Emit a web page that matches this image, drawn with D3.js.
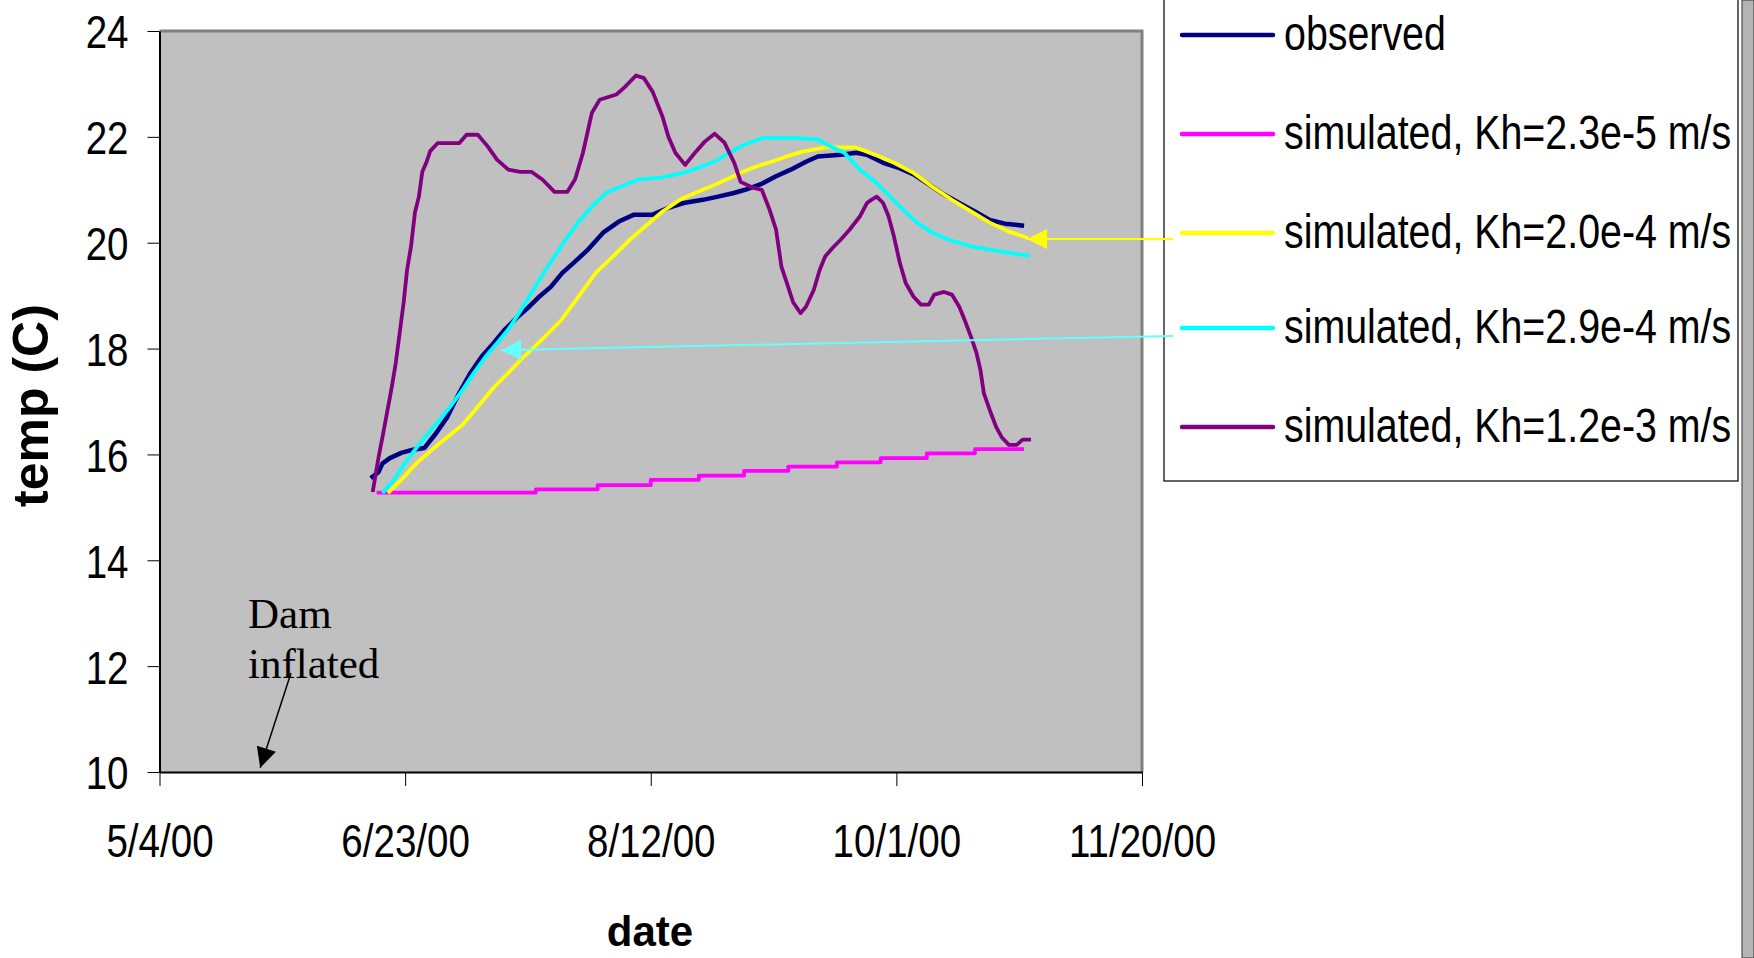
<!DOCTYPE html>
<html>
<head>
<meta charset="utf-8">
<script src="https://cdn.jsdelivr.net/npm/d3@7"></script>
<style>
  body { margin: 0; background: #fff; }
  .narrow { font-family: "Liberation Sans", Arial, sans-serif; }
</style>
</head>
<body>
<svg id="chart" width="1754" height="958"></svg>
<script>
// days counted from 5/4/00, temperatures in C
const startDate = new Date(2000, 4, 4);
const xTickDays = [0, 50, 100, 150, 200];
const yTicks = [10, 12, 14, 16, 18, 20, 22, 24];

const observed = [
  [43, 15.55], [44.6, 15.67], [45.4, 15.83], [46.9, 15.93], [49.2, 16.03], [51.6, 16.09],
  [53.9, 16.12], [56.3, 16.4], [58.6, 16.71], [61, 17.16], [63.3, 17.54], [65.6, 17.85],
  [68, 18.1], [70.3, 18.36], [72.7, 18.58], [75, 18.77], [77.3, 18.98], [79.7, 19.17],
  [82, 19.43], [84.3, 19.62], [87, 19.85], [90.3, 20.19], [93.5, 20.4], [96.6, 20.53],
  [100.4, 20.53], [103.6, 20.66], [106.7, 20.75], [110.6, 20.81], [113.7, 20.87],
  [116.9, 20.94], [119.2, 21.0], [122.3, 21.1], [125.4, 21.25], [128.5, 21.38],
  [131.6, 21.53], [134, 21.63], [138.7, 21.66], [141.8, 21.7], [144, 21.66],
  [147.3, 21.51], [150.3, 21.42], [153.5, 21.29], [156.6, 21.1], [159.7, 20.91],
  [162.8, 20.75], [166, 20.59], [169, 20.43], [172.1, 20.36], [176, 20.32]
];

// stepwise series (value holds until next point)
const simKh23e5 = [
  [44.2, 15.28], [76.6, 15.34], [89.2, 15.42], [100, 15.52], [109.8, 15.6], [119, 15.69],
  [128, 15.77], [137.9, 15.85], [146.8, 15.93], [156.2, 16.02], [166, 16.1], [176, 16.1]
];

const simKh20e4 = [
  [46.5, 15.27], [49.2, 15.52], [52.4, 15.84], [55.5, 16.09], [58.6, 16.33], [61.7, 16.56],
  [64.8, 16.9], [68, 17.26], [71, 17.54], [74.2, 17.85], [77.3, 18.12], [81.8, 18.54],
  [85.3, 18.98], [88.8, 19.43], [92.3, 19.74], [95.8, 20.06], [98.9, 20.31], [102.4, 20.59],
  [105.9, 20.81], [109, 20.94], [112.2, 21.06], [115.3, 21.19], [118.3, 21.32],
  [121.5, 21.44], [124.6, 21.53], [127.7, 21.63], [130.9, 21.72], [135.5, 21.8],
  [141.8, 21.8], [145.7, 21.66], [149.5, 21.51], [153.5, 21.32], [157.3, 21.06],
  [161.3, 20.81], [165.2, 20.59], [169, 20.38], [172.9, 20.21], [176.8, 20.09]
];

const simKh29e4 = [
  [45.4, 15.27], [47.7, 15.52], [50, 15.84], [52.4, 16.14], [54.7, 16.4], [57, 16.65],
  [59.4, 16.93], [61.7, 17.22], [64, 17.54], [66.4, 17.85], [68.7, 18.1], [71, 18.36],
  [73.4, 18.7], [75.7, 19.05], [78, 19.4], [80.4, 19.74], [82.7, 20.06], [85.1, 20.37],
  [88, 20.68], [91, 20.95], [95, 21.1], [97.4, 21.19], [102, 21.23], [106.7, 21.32],
  [109.8, 21.42], [113, 21.53], [116, 21.7], [119, 21.85], [123, 21.98], [129.3, 21.98],
  [134, 21.95], [136.3, 21.83], [139.4, 21.7], [142.6, 21.38], [145.7, 21.15], [148, 20.94],
  [151, 20.66], [154.2, 20.38], [157.3, 20.19], [160.5, 20.06], [165.2, 19.93],
  [171.4, 19.83], [177.2, 19.75]
];

const simKh12e3 = [
  [43.4, 15.29], [44.6, 15.95], [45.4, 16.33], [46.5, 16.88], [47.3, 17.28], [48.1, 17.73],
  [48.9, 18.3], [49.7, 18.87], [50.4, 19.49], [51.2, 19.93], [52, 20.57], [52.8, 20.87],
  [53.5, 21.34], [54.3, 21.51], [55.1, 21.73], [56.6, 21.88], [61, 21.88], [62.5, 22.04],
  [64.8, 22.04], [66.8, 21.82], [68.7, 21.57], [71, 21.38], [73.4, 21.34], [75.7, 21.34],
  [78, 21.19], [80.4, 20.96], [83, 20.96], [84.6, 21.2], [86.2, 21.7], [88, 22.45],
  [89.6, 22.7], [93, 22.8], [94.6, 22.93], [97, 23.16], [98.6, 23.11], [100.4, 22.85],
  [102.4, 22.38], [103.6, 22.0], [105, 21.7], [107, 21.47], [109, 21.7], [111, 21.91],
  [113, 22.06], [115, 21.89], [117, 21.51], [118.3, 21.15], [120.8, 21.04], [122.6, 21.0],
  [124.2, 20.62], [125.5, 20.25], [126.6, 19.55], [127.7, 19.24], [129, 18.87],
  [130.5, 18.67], [131.6, 18.79], [133.2, 19.11], [134.4, 19.49], [135.5, 19.74],
  [137, 19.9], [138.7, 20.06], [140.5, 20.25], [142.6, 20.5], [144, 20.75], [144.9, 20.81],
  [146, 20.87], [147.3, 20.75], [148.4, 20.5], [149.5, 20.12], [150.7, 19.62],
  [151.9, 19.24], [153.5, 18.98], [155, 18.83], [156.6, 18.83], [157.7, 19.02],
  [159.7, 19.07], [161.3, 19.02], [162.8, 18.79], [163.9, 18.54], [165.2, 18.22],
  [166.3, 17.92], [167.1, 17.6], [167.8, 17.16], [169, 16.84], [170.3, 16.52],
  [171.4, 16.33], [172.9, 16.18], [174.5, 16.18], [175.7, 16.28], [177.4, 16.28]
];

const seriesNames = [
  "observed",
  "simulated, Kh=2.3e-5 m/s",
  "simulated, Kh=2.0e-4 m/s",
  "simulated, Kh=2.9e-4 m/s",
  "simulated, Kh=1.2e-3 m/s"
];
const seriesData = [observed, simKh23e5, simKh20e4, simKh29e4, simKh12e3];
const seriesColors = ["#000080", "#ff00ff", "#ffff00", "#00ffff", "#800080"];

const toDate = d => new Date(startDate.getTime() + d * 86400000);
const squeeze = 0.82; // Arial-metric text squeezed to look like Arial Narrow

const svg = d3.select("#chart");
const margin = { left: 159.5, right: 612, top: 31, bottom: 186 };
const width = 1754, height = 958;

const x = d3.scaleTime()
  .domain([toDate(0), toDate(200)])
  .range([margin.left, width - margin.right]);
const y = d3.scaleLinear()
  .domain([10, 24])
  .range([height - margin.bottom, margin.top]);

// plot area
svg.append("rect")
  .attr("x", x.range()[0])
  .attr("y", y.range()[1])
  .attr("width", x.range()[1] - x.range()[0])
  .attr("height", y.range()[0] - y.range()[1])
  .attr("fill", "#c0c0c0");
svg.append("path")
  .attr("d", `M${x.range()[0]},${y.range()[1]}H${x.range()[1]}V${y.range()[0]}`)
  .attr("fill", "none")
  .attr("stroke", "#808080")
  .attr("stroke-width", 3);

// axes
let yAxis = svg.append("g")
  .attr("transform", `translate(${margin.left},0)`)
  .call(d3.axisLeft(y).tickValues(yTicks).tickSize(12).tickSizeOuter(0).tickPadding(19));
let xAxis = svg.append("g")
  .attr("transform", `translate(0,${y(10)})`)
  .call(d3.axisBottom(x).tickValues(xTickDays.map(toDate)).tickSize(14).tickSizeOuter(0)
    .tickPadding(38).tickFormat(d3.timeFormat("%-m/%-d/%y")));
[yAxis, xAxis].forEach(a => {
  a.selectAll("text").attr("class", "narrow").attr("font-size", 47).attr("fill", "#000");
  a.selectAll("line").attr("stroke", "#000");
  a.select(".domain").attr("stroke", "#000").attr("stroke-width", 2);
});
yAxis.selectAll("text")
  .attr("dy", "0.36em")
  .attr("x", -31 / squeeze)
  .attr("transform", `scale(${squeeze},1)`);
xAxis.selectAll("text").attr("transform", `scale(${squeeze},1)`);

svg.append("text")
  .attr("transform", `translate(48,${(y(10) + y(24)) / 2 + 4}) rotate(-90)`)
  .attr("text-anchor", "middle")
  .attr("font-family", "Liberation Sans, Arial, sans-serif")
  .attr("font-weight", "bold")
  .attr("font-size", 50)
  .text("temp (C)");
svg.append("text")
  .attr("x", 650)
  .attr("y", 946)
  .attr("text-anchor", "middle")
  .attr("font-family", "Liberation Sans, Arial, sans-serif")
  .attr("font-weight", "bold")
  .attr("font-size", 42)
  .text("date");

// series
let lineGenerator = d3.line()
  .x(d => x(toDate(d[0])))
  .y(d => y(d[1]));
seriesData.forEach((s, i) => {
  svg.append("path")
    .attr("d", lineGenerator.curve(i === 1 ? d3.curveStepAfter : d3.curveLinear)(s))
    .attr("fill", "none")
    .attr("stroke", seriesColors[i])
    .attr("stroke-width", i === 0 ? 4.5 : 3.8)
    .attr("stroke-linejoin", "round");
});

// arrowheads
let defs = svg.append("defs");
[["head-black", "#000"], ["head-yellow", "#ffff00"], ["head-cyan", "#66ffff"]].forEach(m => {
  defs.append("marker")
    .attr("id", m[0])
    .attr("viewBox", "0 0 10 10")
    .attr("refX", 10).attr("refY", 5)
    .attr("markerUnits", "userSpaceOnUse")
    .attr("markerWidth", 23).attr("markerHeight", 20)
    .attr("orient", "auto")
    .append("path")
    .attr("d", "M0,0L10,5L0,10Z")
    .attr("fill", m[1]);
});

// legend
const legendX = 1164;
const legendRows = [35, 134, 233, 328, 427];
svg.append("rect")
  .attr("x", legendX).attr("y", -2)
  .attr("width", 574).attr("height", 483)
  .attr("fill", "#fff")
  .attr("stroke", "#000")
  .attr("stroke-width", 1.2);
seriesNames.forEach((n, i) => {
  svg.append("line")
    .attr("x1", legendX + 18).attr("x2", legendX + 109)
    .attr("y1", legendRows[i]).attr("y2", legendRows[i])
    .attr("stroke", seriesColors[i])
    .attr("stroke-width", 4.5)
    .attr("stroke-linecap", "round");
  svg.append("text")
    .attr("class", "narrow")
    .attr("transform", `translate(${legendX + 120},${legendRows[i] + 15}) scale(${squeeze},1)`)
    .attr("font-size", 48)
    .text(n);
});

// pointers from legend to the curves
svg.append("line")
  .attr("x1", legendX + 9).attr("y1", 239)
  .attr("x2", x(toDate(176.6))).attr("y2", y(20.07))
  .attr("stroke", "#ffff00").attr("stroke-width", 2)
  .attr("marker-end", "url(#head-yellow)");
svg.append("line")
  .attr("x1", legendX + 9).attr("y1", 336)
  .attr("x2", x(toDate(69.5))).attr("y2", y(17.97))
  .attr("stroke", "#66ffff").attr("stroke-width", 2)
  .attr("marker-end", "url(#head-cyan)");

// right frame strip
svg.append("rect")
  .attr("x", 1742).attr("y", 0)
  .attr("width", 12).attr("height", height)
  .attr("fill", "#b4b4b4")
  .attr("stroke", "#333")
  .attr("stroke-width", 1);

// dam annotation
svg.append("text")
  .attr("x", 248).attr("y", 628)
  .attr("font-family", "Liberation Serif, Times New Roman, serif")
  .attr("font-size", 43)
  .text("Dam");
svg.append("text")
  .attr("x", 248).attr("y", 678)
  .attr("font-family", "Liberation Serif, Times New Roman, serif")
  .attr("font-size", 43)
  .text("inflated");
svg.append("line")
  .attr("x1", 291).attr("y1", 673)
  .attr("x2", x(toDate(20.5))).attr("y2", y(10.08))
  .attr("stroke", "#000").attr("stroke-width", 1.5)
  .attr("marker-end", "url(#head-black)");
</script>
</body>
</html>
